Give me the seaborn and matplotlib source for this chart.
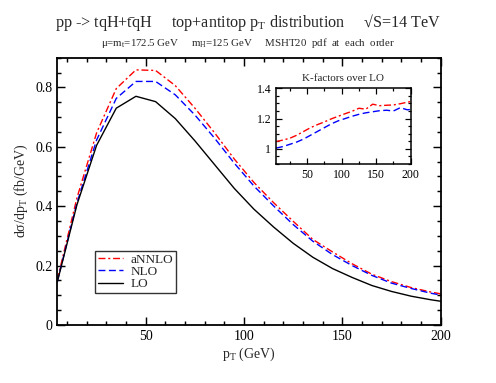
import numpy as np
import pandas as pd
import matplotlib
matplotlib.use('Agg')
import matplotlib.pyplot as plt
import seaborn as sns
from matplotlib.ticker import MultipleLocator

# transverse momentum bins (GeV)
pt = [5, 15, 25, 35, 45, 55, 65, 75, 85, 95, 105, 115, 125, 135, 145, 155, 165, 175, 185, 195, 200]

# d sigma / d pT (fb/GeV)
lo = [0.145, 0.405, 0.605, 0.730, 0.770, 0.752, 0.695, 0.620, 0.540, 0.460, 0.390,
      0.330, 0.275, 0.228, 0.190, 0.160, 0.133, 0.113, 0.097, 0.085, 0.080]
nlo = [0.146, 0.411, 0.623, 0.763, 0.820, 0.820, 0.775, 0.707, 0.629, 0.545, 0.468,
       0.401, 0.338, 0.282, 0.237, 0.200, 0.167, 0.141, 0.123, 0.107, 0.101]
annlo = [0.152, 0.428, 0.647, 0.796, 0.859, 0.857, 0.806, 0.730, 0.647, 0.559, 0.480,
         0.412, 0.349, 0.288, 0.246, 0.206, 0.171, 0.146, 0.126, 0.111, 0.105]

# K-factors over LO (inset)
k_nlo = [1.005, 1.015, 1.030, 1.045, 1.065, 1.090, 1.115, 1.140, 1.165, 1.185, 1.200,
         1.215, 1.228, 1.238, 1.245, 1.252, 1.255, 1.250, 1.272, 1.258, 1.260]
k_annlo = [1.048, 1.058, 1.070, 1.090, 1.115, 1.140, 1.160, 1.178, 1.198, 1.215, 1.232,
           1.248, 1.268, 1.262, 1.295, 1.285, 1.288, 1.290, 1.298, 1.308, 1.312]

sns.set_style('ticks')
plt.rcParams['font.family'] = ['Liberation Serif', 'DejaVu Serif']
plt.rcParams['mathtext.fontset'] = 'custom'
plt.rcParams['mathtext.rm'] = 'Liberation Serif'
plt.rcParams['mathtext.it'] = 'Liberation Serif'


def style_axes(ax, lw, major, minor, fs):
    for s in ax.spines.values():
        s.set_linewidth(lw)
        s.set_color('black')
    ax.tick_params(which='both', direction='in', top=True, right=True,
                   colors='black', labelsize=fs, width=lw * 0.8)
    ax.tick_params(which='major', length=major)
    ax.tick_params(which='minor', length=minor)


fig = plt.figure(figsize=(4.96, 3.83), dpi=100)
ax = fig.add_axes([0.1155, 0.1514, 0.773, 0.698])

series = [('aNNLO', annlo, 'red', (0, (5, 2, 1.5, 2))),
          ('NLO', nlo, 'blue', (0, (5, 2.5))),
          ('LO', lo, 'black', '-')]
for name, vals, col, ls in series:
    sns.lineplot(x=pt, y=vals, ax=ax, color=col, linestyle=ls, linewidth=1.0, label=name)

ax.set_xlim(5, 200)
ax.set_ylim(0, 0.9)
ax.xaxis.set_major_locator(MultipleLocator(50))
ax.xaxis.set_minor_locator(MultipleLocator(10))
ax.yaxis.set_minor_locator(MultipleLocator(0.05))
ax.set_yticks([0, 0.2, 0.4, 0.6, 0.8])
ax.set_yticklabels(['0', '0.2', '0.4', '0.6', '0.8'])
style_axes(ax, 1.3, 6, 3, 10)
ax.set_xlabel(r'p$_\mathrm{T}$ (GeV)', fontsize=10, labelpad=2)
ax.set_ylabel(r'd$\sigma$/dp$_\mathrm{T}$ (fb/GeV)', fontsize=10, labelpad=4)

leg = ax.legend(loc='lower left', bbox_to_anchor=(0.098, 0.12), fontsize=9.5,
                frameon=True, fancybox=False, handlelength=1.9, borderpad=0.2,
                labelspacing=0.0, handletextpad=0.6, borderaxespad=0)
leg.get_frame().set_edgecolor('black')
leg.get_frame().set_linewidth(1.0)

# inset with K-factors
ins = fig.add_axes([0.5565, 0.5718, 0.2715, 0.1977])
sns.lineplot(x=pt, y=k_annlo, ax=ins, color='red', linestyle=(0, (5, 2, 1.5, 2)), linewidth=1.0)
sns.lineplot(x=pt, y=k_nlo, ax=ins, color='blue', linestyle=(0, (5, 2.5)), linewidth=1.0)
ins.set_xlim(5, 200)
ins.set_ylim(0.9, 1.4)
ins.xaxis.set_major_locator(MultipleLocator(50))
ins.xaxis.set_minor_locator(MultipleLocator(25))
ins.set_yticks([1.0, 1.2, 1.4])
ins.set_yticklabels(['1', '1.2', '1.4'])
ins.yaxis.set_minor_locator(MultipleLocator(0.05))
style_axes(ins, 1.1, 4.5, 2.5, 8.5)
ins.set_xlabel('')
ins.set_ylabel('')
ins.set_title('K-factors over LO', fontsize=8, pad=5)

fig.text(0.5, 0.94, 'pp -> tqH+t\u0304qH     top+antitop p$_\\mathrm{T}$ distribution     \u221aS=14 TeV',
         ha='center', va='center', fontsize=11.6)
fig.text(0.5, 0.888, r'$\mu$=m$_\mathrm{t}$=172.5 GeV     m$_\mathrm{H}$=125 GeV     MSHT20  pdf  at  each  order',
         ha='center', va='center', fontsize=7.85)

fig.savefig('out.png', dpi=100)
